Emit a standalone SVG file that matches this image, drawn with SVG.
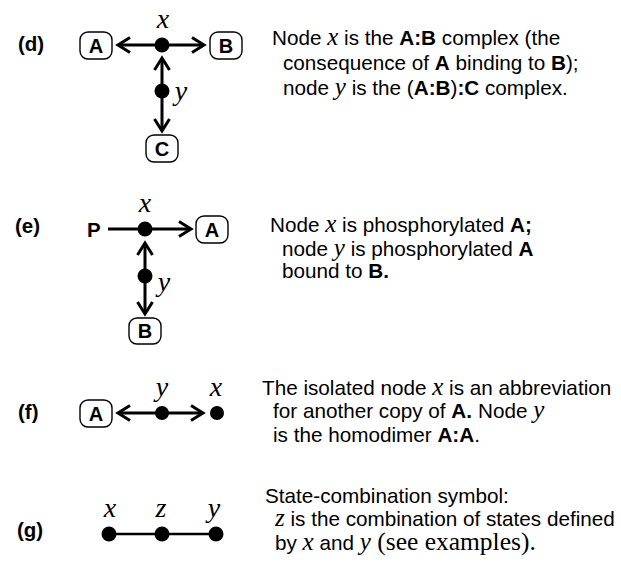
<svg xmlns="http://www.w3.org/2000/svg" width="621" height="572" viewBox="0 0 621 572">
<style>
  .t { font-family: "Liberation Sans", Arial, sans-serif; font-size: 20.7px; fill: #000; }
  .lbl { font-family: "Liberation Sans", Arial, sans-serif; font-size: 20.5px; font-weight: bold; fill: #000; }
  .b { font-weight: bold; }
  .v { font-family: "Liberation Serif", "Times New Roman", serif; font-style: italic; font-size: 25px; }
  .vl { font-family: "Liberation Serif", "Times New Roman", serif; font-style: italic; font-size: 28px; fill: #000; text-anchor: middle; }
  .serif { font-family: "Liberation Serif", "Times New Roman", serif; font-size: 25.5px; }
  .box { fill: #fff; stroke: #000; stroke-width: 1.4; }
  .boxt { font-family: "Liberation Sans", Arial, sans-serif; font-size: 20px; font-weight: bold; text-anchor: middle; fill: #000; }
  .edge { stroke: #000; stroke-width: 3; fill: none; }
  .edge-thin { stroke: #000; stroke-width: 2.5; fill: none; }
  .dot { fill: #000; }
</style>
<defs>
  <marker id="arr" markerUnits="userSpaceOnUse" viewBox="-16 -10 18 20" refX="0" refY="0" markerWidth="18" markerHeight="20" orient="auto" overflow="visible">
    <path d="M-12,-7.5 L0,0 L-12,7.5" fill="none" stroke="#000" stroke-width="3" stroke-linejoin="miter" stroke-linecap="butt"/>
  </marker>
</defs>

<!-- panel labels -->
<text class="lbl" x="18" y="51">(d)</text>
<text class="lbl" x="15" y="233">(e)</text>
<text class="lbl" x="18" y="419">(f)</text>
<text class="lbl" x="17" y="537">(g)</text>

<!-- connectors -->
<g id="connectors">
  <!-- d -->
  <line class="edge" x1="162" y1="45" x2="118" y2="45" marker-end="url(#arr)"/>
  <line class="edge" x1="162" y1="45" x2="204" y2="45" marker-end="url(#arr)"/>
  <line class="edge" x1="162" y1="91" x2="162" y2="58" marker-end="url(#arr)"/>
  <line class="edge" x1="162" y1="91" x2="162" y2="131" marker-end="url(#arr)"/>
  <!-- e -->
  <line class="edge" x1="108" y1="229" x2="191" y2="229" marker-end="url(#arr)"/>
  <line class="edge" x1="145" y1="276" x2="145" y2="243" marker-end="url(#arr)"/>
  <line class="edge" x1="145" y1="276" x2="145" y2="314" marker-end="url(#arr)"/>
  <!-- f -->
  <line class="edge" x1="162" y1="413" x2="118" y2="413" marker-end="url(#arr)"/>
  <line class="edge" x1="162" y1="413" x2="203" y2="413" marker-end="url(#arr)"/>
  <!-- g -->
  <line class="edge-thin" x1="109" y1="534" x2="216" y2="534"/>
</g>

<!-- panel d nodes -->
<g id="d-A"><rect class="box" x="80" y="32" width="32" height="27" rx="8"/><text class="boxt" x="96" y="53">A</text></g>
<g id="d-B"><rect class="box" x="210" y="32" width="32" height="27" rx="8"/><text class="boxt" x="226" y="53">B</text></g>
<g id="d-C"><rect class="box" x="146" y="135" width="32" height="27" rx="8"/><text class="boxt" x="162" y="156">C</text></g>
<g id="d-x"><circle class="dot" cx="162" cy="45" r="7.5"/><text class="vl" x="163" y="28">x</text></g>
<g id="d-y"><circle class="dot" cx="162" cy="91" r="7.5"/><text class="vl" x="181" y="100">y</text></g>

<!-- panel e nodes -->
<g id="e-P"><text class="lbl" x="87" y="237">P</text></g>
<g id="e-A"><rect class="box" x="196" y="216" width="32" height="27" rx="8"/><text class="boxt" x="212" y="237">A</text></g>
<g id="e-B"><rect class="box" x="129" y="318" width="32" height="26" rx="8"/><text class="boxt" x="145" y="338">B</text></g>
<g id="e-x"><circle class="dot" cx="145" cy="229" r="7.5"/><text class="vl" x="145" y="212">x</text></g>
<g id="e-y"><circle class="dot" cx="145" cy="276" r="7.5"/><text class="vl" x="164" y="291">y</text></g>

<!-- panel f nodes -->
<g id="f-A"><rect class="box" x="80" y="400" width="32" height="27" rx="8"/><text class="boxt" x="96" y="421">A</text></g>
<g id="f-y"><circle class="dot" cx="162" cy="413" r="7"/><text class="vl" x="162" y="396">y</text></g>
<g id="f-x"><circle class="dot" cx="217" cy="413" r="7"/><text class="vl" x="216" y="396">x</text></g>

<!-- panel g nodes -->
<g id="g-x"><circle class="dot" cx="109" cy="534" r="7.5"/><text class="vl" x="110" y="517">x</text></g>
<g id="g-z"><circle class="dot" cx="162" cy="534" r="7.5"/><text class="vl" x="161" y="517">z</text></g>
<g id="g-y"><circle class="dot" cx="216" cy="534" r="7.5"/><text class="vl" x="214" y="517">y</text></g>

<!-- descriptions -->
<g id="d-text">
  <text class="t" x="272" y="45">Node <tspan class="v">x</tspan> is the <tspan class="b">A:B</tspan> complex (the</text>
  <text class="t" x="283" y="70">consequence of <tspan class="b">A</tspan> binding to <tspan class="b">B</tspan>);</text>
  <text class="t" x="283" y="95">node <tspan class="v">y</tspan> is the (<tspan class="b">A:B</tspan>)<tspan class="b">:C</tspan> complex.</text>
</g>
<g id="e-text">
  <text class="t" x="270" y="232">Node <tspan class="v">x</tspan> is phosphorylated <tspan class="b">A;</tspan></text>
  <text class="t" x="282" y="256">node <tspan class="v">y</tspan> is phosphorylated <tspan class="b">A</tspan></text>
  <text class="t" x="282" y="278">bound to <tspan class="b">B.</tspan></text>
</g>
<g id="f-text">
  <text class="t" x="262" y="395">The isolated node <tspan class="v">x</tspan> is an abbreviation</text>
  <text class="t" x="273" y="418">for another copy of <tspan class="b">A.</tspan><tspan dx="6">Node </tspan><tspan class="v">y</tspan></text>
  <text class="t" x="273" y="442">is the homodimer <tspan class="b">A:A</tspan>.</text>
</g>
<g id="g-text">
  <text class="t" x="265" y="503">State-combination symbol:</text>
  <text class="t" x="275" y="526"><tspan class="v">z</tspan> is the combination of states defined</text>
  <text class="t" x="275" y="550">by <tspan class="v">x</tspan> and <tspan class="v">y</tspan><tspan class="serif"> (see examples).</tspan></text>
</g>
</svg>
